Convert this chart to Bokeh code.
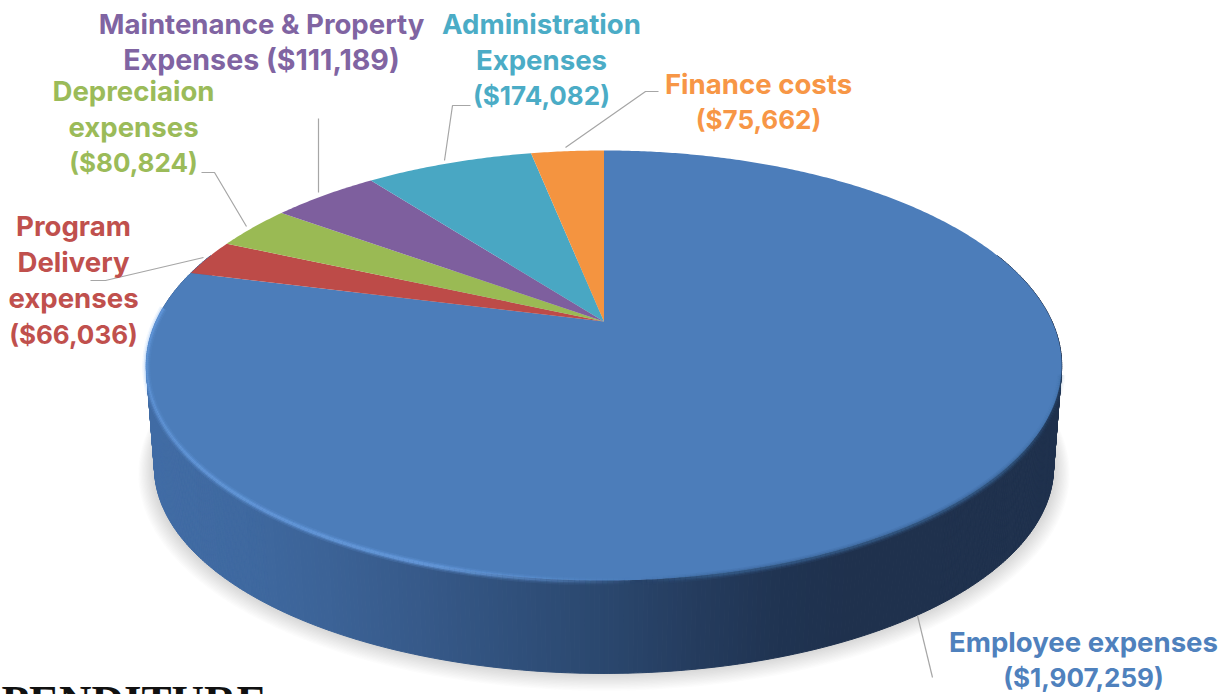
import numpy as np
from bokeh.plotting import figure
from bokeh.models import ColumnDataSource, Range1d
from bokeh.core.properties import value
from bokeh.embed import file_html
from bokeh.resources import INLINE

# ---------- data ----------
categories = ["Employee expenses", "Program Delivery expenses", "Depreciaion expenses",
              "Maintenance & Property Expenses", "Administration Expenses", "Finance costs"]
amounts = [1907259, 66036, 80824, 111189, 174082, 75662]
face_colors = ["#4c7dba", "#bd4b48", "#9aba54", "#7e5f9e", "#49a7c3", "#f49440"]
label_colors = ["#4f81bd", "#c0504d", "#9bbb59", "#8064a2", "#4bacc6", "#f79646"]
label_lines = [
    ["Employee expenses", "($1,907,259)"],
    ["Program", "Delivery", "expenses", "($66,036)"],
    ["Depreciaion", "expenses", "($80,824)"],
    ["Maintenance & Property", "Expenses ($111,189)"],
    ["Administration", "Expenses", "($174,082)"],
    ["Finance costs", "($75,662)"],
]
# ---------- layout ----------
label_anchor = [(1083, 641), (73, 225), (133, 90), (261, 23), (541, 23), (758, 83)]
line_gap = 36.2
leaders = [
    ([917, 932], [615, 677]),
    ([90, 105, 203], [280, 280, 257]),
    ([201, 214, 246], [172, 172, 226]),
    ([318, 318], [118, 192]),
    ([470, 452, 444], [105, 105, 160]),
    ([658, 645, 565], [91, 91, 147]),
]

W, H = 1231, 694
CX = 603.5
PERSP = 0.2047


def rim(theta, a, b, R, scale=1.0):
    """Perspective projection of a point of the unit disc, theta clockwise from 12 o'clock."""
    X, Y = scale * np.sin(theta), scale * np.cos(theta)
    w = 1 + PERSP * Y
    return CX + R * X / w, (a + b * Y) / w


TOP = dict(a=321.0, b=-140.3, R=448.0)
BOT = dict(a=424.8, b=-110.4, R=440.0)

p = figure(width=W, height=H, output_backend="svg", toolbar_location=None,
           x_range=Range1d(0, W), y_range=Range1d(H, 0),
           min_border=0, outline_line_color=None)
p.axis.visible = False
p.grid.visible = False
p.xaxis.visible = False
p.yaxis.visible = False
p.background_fill_color = "white"

# soft shadow under the disc
t = np.linspace(0, 2 * np.pi, 240)
sx, sy = rim(t, **BOT)
cy = 467.0
for k in range(1, 14):
    gx = CX + (sx - CX) * (1 + k * 0.0026 + 0.002)
    gy = cy + (sy - cy) * (1 + k * 0.0040) + k * 0.5
    p.patch(gx, gy, fill_color="#666666", fill_alpha=0.02, line_color=None)

# wall: colour depends on the horizontal position
wall_x = [146, 250, 330, 420, 520, 620, 700, 780, 860, 1064]
wall_r = [0x42, 0x3f, 0x3c, 0x37, 0x30, 0x2a, 0x25, 0x20, 0x1f, 0x1f]
wall_g = [0x6d, 0x69, 0x63, 0x5a, 0x50, 0x46, 0x3c, 0x34, 0x31, 0x31]
wall_b = [0xa6, 0xa0, 0x97, 0x8a, 0x7b, 0x6c, 0x5e, 0x52, 0x4d, 0x4d]


def wall_color(x):
    return "#%02x%02x%02x" % (int(np.interp(x, wall_x, wall_r)),
                              int(np.interp(x, wall_x, wall_g)),
                              int(np.interp(x, wall_x, wall_b)))


th = np.radians(np.linspace(70, 290, 441))
tx, ty = rim(th, **TOP)
bx, by = rim(th, **BOT)
wall = ColumnDataSource(dict(
    xs=[[tx[i], tx[i + 1], bx[i + 1], bx[i]] for i in range(len(th) - 1)],
    ys=[[ty[i], ty[i + 1], by[i + 1], by[i]] for i in range(len(th) - 1)],
    c=[wall_color((tx[i] + bx[i]) / 2) for i in range(len(th) - 1)],
))
p.patches("xs", "ys", source=wall, fill_color="c", line_color="c", line_width=1)

# top face: slices from the amounts, clockwise from 12 o'clock
total = sum(amounts)
edges = np.concatenate([[0], np.cumsum(amounts)]) / total * 2 * np.pi
xs, ys = [], []
for i in range(len(amounts)):
    a = np.linspace(edges[i], edges[i + 1], max(4, int((edges[i + 1] - edges[i]) * 120)))
    rx, ry = rim(a, **TOP)
    xs.append([CX] + list(rx))
    ys.append([TOP["a"]] + list(ry))
faces = ColumnDataSource(dict(xs=xs, ys=ys, c=face_colors))
p.patches("xs", "ys", source=faces, fill_color="c", line_color=None)

# rim: light bevel on the left and front, soft blur on the right
for width, alpha in [(8, 0.16), (5, 0.3), (2.5, 0.55)]:
    th2 = np.radians(np.linspace(104, 274, 300))
    rx, ry = rim(th2, **TOP)
    mx = [[rx[i], rx[i + 1]] for i in range(len(th2) - 1)]
    my = [[ry[i] + 1.0, ry[i + 1] + 1.0] for i in range(len(th2) - 1)]
    cols, als = [], []
    for i in range(len(th2) - 1):
        x = rx[i]
        if x > 640:
            cols.append("#37608f")
            als.append(alpha * float(np.interp(x, [640, 720, 1000, 1050], [0.0, 1.0, 1.0, 0.3])))
        else:
            cols.append("#72aaf0")
            als.append(alpha * float(np.interp(x, [145, 200, 430, 520, 640], [0.6, 0.8, 1.0, 0.6, 0.0])))
    rimsrc = ColumnDataSource(dict(x=mx, y=my, c=cols, al=als))
    p.multi_line("x", "y", source=rimsrc, line_color="c", line_alpha="al", line_width=width)

# leader lines
for lx, ly in leaders:
    p.line(lx, ly, line_color="#a6a6a6", line_width=1.2)

# labels
tx_, ty_, tt_, tc_, ts_ = [], [], [], [], []
for lines, anchor, col in zip(label_lines, label_anchor, label_colors):
    for j, s in enumerate(lines):
        tx_.append(anchor[0])
        ty_.append(anchor[1] + j * line_gap)
        tt_.append(s)
        tc_.append(col)
        ts_.append("26px" if s.startswith("(") else ("28.6px" if "(" in s else "27.6px"))
labels = ColumnDataSource(dict(x=tx_, y=ty_, t=tt_, c=tc_, s=ts_))
p.text("x", "y", text="t", text_color="c", text_font_size="s", source=labels,
       text_font=value("Inter"), text_font_style="bold",
       text_align="center", text_baseline="middle")

# cropped heading at the lower edge
p.text([1], [675], text=["PENDITURE"], text_color="#111111", text_font=value("Liberation Serif"),
       text_font_style="bold", text_font_size="45px", text_align="left", text_baseline="top")

open("out.html", "w").write(file_html(p, INLINE))
